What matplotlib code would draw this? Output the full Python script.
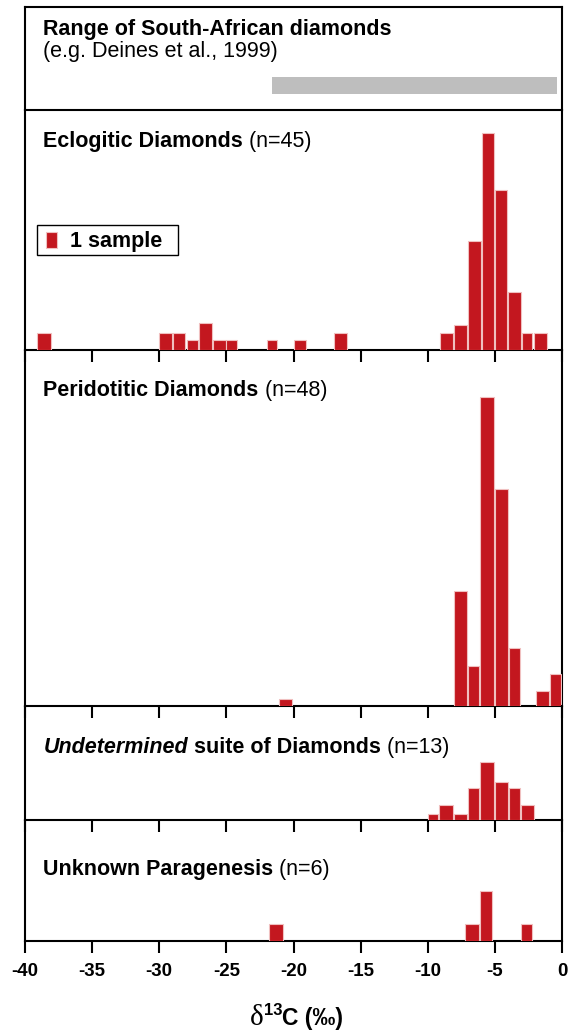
import matplotlib
matplotlib.use("Agg")
import matplotlib.pyplot as plt
from matplotlib.patches import Rectangle

plt.rcParams["font.family"] = ["Liberation Sans", "DejaVu Sans"]
plt.rcParams["axes.unicode_minus"] = False

# ---- data (delta13C bins, per mil; counts in samples) -----------------------
range_lo, range_hi = -21.6, -0.35      # South-African diamonds, Deines et al. 1999

ecl_lo = [-39.1, -30.0, -28.95, -27.95, -27.05, -26.0, -25.0, -21.95, -20.0, -17.0,
          -9.1, -8.05, -7.0, -5.95, -5.0, -4.0, -2.95, -2.1]
ecl_hi = [-38.1, -29.05, -28.05, -27.15, -26.1, -25.05, -24.2, -21.2, -19.05, -16.0,
          -8.15, -7.1, -6.05, -5.1, -4.1, -3.05, -2.2, -1.15]
ecl_n = [1.0, 1.0, 1.0, 0.6, 1.6, 0.6, 0.6, 0.6, 0.6, 1.0,
         1.0, 1.5, 6.5, 13.0, 9.6, 3.5, 1.0, 1.0]

per_lo = [-21.05, -8.05, -7.0, -6.1, -5.0, -3.95, -1.95, -0.9]
per_hi = [-20.1, -7.05, -6.2, -5.1, -4.05, -3.15, -1.0, -0.1]
per_n = [0.4, 6.9, 2.4, 18.5, 13.0, 3.5, 0.9, 1.9]

und_lo = [-10.0, -9.15, -8.05, -7.0, -6.1, -5.0, -3.95, -3.05]
und_hi = [-9.25, -8.15, -7.05, -6.2, -5.1, -4.05, -3.15, -2.05]
und_n = [0.35, 0.9, 0.35, 1.9, 3.5, 2.3, 1.9, 0.9]

unk_lo = [-21.8, -7.2, -6.1, -3.05]
unk_hi = [-20.8, -6.2, -5.25, -2.25]
unk_n = [1.0, 1.0, 3.0, 1.0]

xticks = list(range(-40, 1, 5))

# ---- layout (figure pixels) -------------------------------------------------
W, H = 569, 1032
LEFT, RIGHT = 25, 562
PX_PER_SAMPLE = 16.7
panels_px = [(6.7, 110), (110, 350), (350, 706), (706, 820), (820, 941)]

RED = "#c3171f"
EDGE = "#f0c0c0"
TFS = 15.5    # panel titles
KFS = 13.5    # tick labels

fig = plt.figure(figsize=(W / 100, H / 100), dpi=100)
r = fig.canvas.get_renderer()


def fx(px):
    return px / W


def fy(py):
    return 1 - py / H


def chain(x_px, y_px, parts):
    """write text pieces one after another on one baseline (figure px)"""
    x = fx(x_px)
    out = []
    for s, kw in parts:
        t = fig.text(x, fy(y_px), s, va="baseline", ha="left", **kw)
        bb = t.get_window_extent(renderer=r)
        x += bb.width / W
        out.append(t)
    return out


axes = []
for i, (top, bot) in enumerate(panels_px):
    ax = fig.add_axes([fx(LEFT), fy(bot), fx(RIGHT - LEFT), (bot - top) / H])
    ax.set_facecolor("none")
    ax.set_xlim(-40, 0)
    for s in ax.spines.values():
        s.set_linewidth(1.5)
    ax.set_yticks([])
    if i == 0:
        ax.set_xticks([])
        ax.set_ylim(0, 1)
    else:
        ax.spines["top"].set_visible(False)
        ax.set_ylim(0, (bot - top) / PX_PER_SAMPLE)
        ax.set_xticks(xticks)
        ax.tick_params(axis="x", direction="out", length=8.6, width=1.5,
                       pad=7, labelsize=KFS)
        if i < len(panels_px) - 1:
            ax.tick_params(axis="x", labelbottom=False)
        else:
            for lab in ax.get_xticklabels():
                lab.set_fontweight("bold")
    axes.append(ax)

ax0, ax_ecl, ax_per, ax_und, ax_unk = axes

# range bar
ax0.barh(0.155, range_hi - range_lo, left=range_lo, height=0.167,
         align="edge", color="#bebebe", lw=0)

for ax, lo, hi, n in [(ax_ecl, ecl_lo, ecl_hi, ecl_n),
                      (ax_per, per_lo, per_hi, per_n),
                      (ax_und, und_lo, und_hi, und_n),
                      (ax_unk, unk_lo, unk_hi, unk_n)]:
    widths = [b - a for a, b in zip(lo, hi)]
    ax.bar(lo, n, width=widths, align="edge", color=RED,
           edgecolor=EDGE, linewidth=0.8, zorder=3)

# titles
B = dict(fontsize=TFS, fontweight="bold")
N = dict(fontsize=TFS)
chain(43.3, 35, [("Range of South-African diamonds", B)])
chain(43.3, 56.7, [("(e.g. Deines et al., 1999)", N)])
chain(43.3, 146.7, [("Eclogitic Diamonds", B), (" (n=45)", N)])
chain(43.3, 396, [("Peridotitic Diamonds", B), (" (n=48)", N)])
chain(43.3, 753, [("Undetermined", dict(B, fontstyle="italic")),
                  (" suite of Diamonds", B), (" (n=13)", N)])
chain(43.3, 875, [("Unknown Paragenesis", B), (" (n=6)", N)])

# legend: one bar = 1 sample
fig.patches.append(Rectangle((fx(37.3), fy(255)), fx(141), 30 / H,
                             transform=fig.transFigure, fill=False,
                             ec="black", lw=1))
fig.patches.append(Rectangle((fx(46), fy(247.5)), fx(11), 15 / H,
                             transform=fig.transFigure, fc=RED, ec=EDGE, lw=0.8))
chain(70, 247.3, [("1 sample", B)])

# x label: delta 13C (permil), centred on the axis
parts = [("δ", dict(fontsize=21, family=["Liberation Serif", "DejaVu Serif"])),
         ("13", dict(fontsize=12, fontweight="bold")),
         ("C (‰)", dict(fontsize=16.5, fontweight="bold"))]
texts = chain(0, 1025, parts)
total = sum(t.get_window_extent(renderer=r).width for t in texts)
x = 296.7 - total / 2
for t, dy in zip(texts, [0, -10, 0]):
    t.set_position((fx(x), fy(1025 + dy)))
    x += t.get_window_extent(renderer=r).width

fig.savefig("out.png", dpi=100)
